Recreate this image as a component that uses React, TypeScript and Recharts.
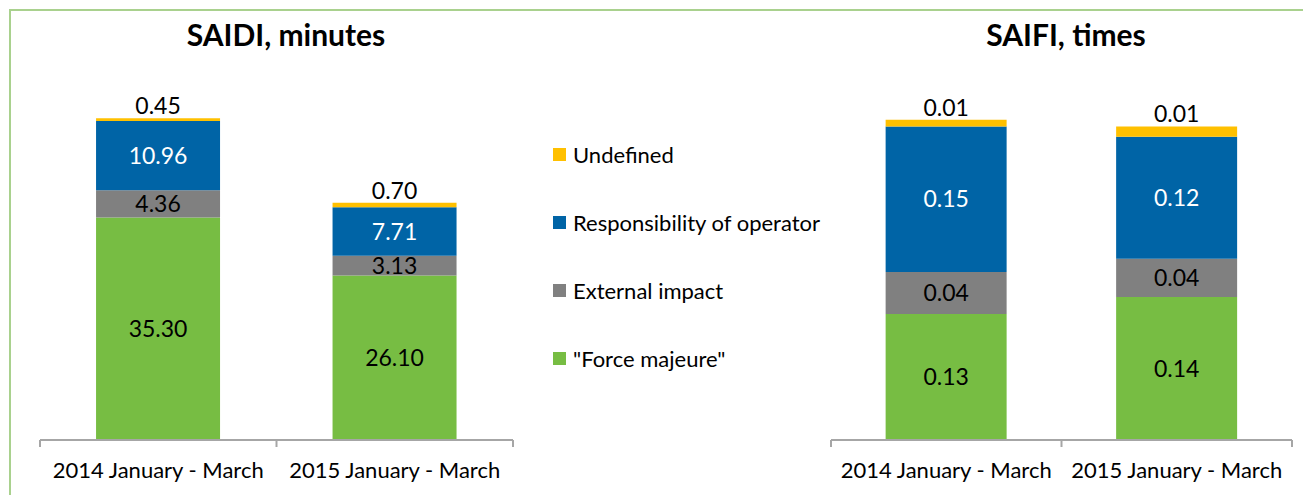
import { BarChart, Bar, XAxis, YAxis, LabelList, Legend } from "recharts"

const categories = ["2014 January - March", "2015 January - March"]

// SAIDI, minutes
const saidiForce = [35.3, 26.1]
const saidiExternal = [4.36, 3.13]
const saidiOperator = [10.96, 7.71]
const saidiUndefined = [0.45, 0.7]

// SAIFI, times (labels show rounded values)
const saifiForce = [0.126, 0.143]
const saifiExternal = [0.042, 0.0383]
const saifiOperator = [0.1455, 0.122]
const saifiUndefined = [0.0067, 0.0103]

const seriesKeys = ["force", "external", "operator", "undefined"]
const seriesNames = ['"Force majeure"', "External impact", "Responsibility of operator", "Undefined"]
const seriesColors = ["#77bd43", "#808080", "#0064a6", "#ffc000"]
const labelColors = ["#000", "#000", "#fff", "#000"]

const FONT = "Lato, Carlito, 'Open Sans', sans-serif"
const AXIS = "#a6a6a6"
const TICK = 7
const HEIGHT = 495
const X_AXIS_H = 55

function buildRows(force: number[], external: number[], operator: number[], undef: number[]) {
  return categories.map((category, i) => ({
    category,
    force: force[i],
    external: external[i],
    operator: operator[i],
    undefined: undef[i],
  }))
}

const saidiRows = buildRows(saidiForce, saidiExternal, saidiOperator, saidiUndefined)
const saifiRows = buildRows(saifiForce, saifiExternal, saifiOperator, saifiUndefined)

function makeTick(half: number, count: number) {
  return function Tick(props: any) {
    const { x, y, payload, index } = props
    const axisY = y - TICK
    return (
      <g>
        <line x1={x - half} x2={x - half} y1={axisY} y2={axisY + TICK} stroke={AXIS} strokeWidth={2} />
        {index === count - 1 && (
          <line x1={x + half} x2={x + half} y1={axisY} y2={axisY + TICK} stroke={AXIS} strokeWidth={2} />
        )}
        <text x={x} y={axisY + 38} textAnchor="middle" fill="#000" fontSize={22} fontFamily={FONT}>
          {payload.value}
        </text>
      </g>
    )
  }
}

function LegendContent({ payload }: { payload?: Array<{ value: string; color: string }> }) {
  const items = [...(payload ?? [])].reverse()
  return (
    <div style={{ fontFamily: FONT, fontSize: 22, color: "#000" }}>
      {items.map((it) => (
        <div key={it.value} style={{ height: 68, display: "flex", alignItems: "center" }}>
          <span style={{ width: 13, height: 13, background: it.color, marginRight: 7, flex: "none" }} />
          <span>{it.value}</span>
        </div>
      ))}
    </div>
  )
}

interface StackProps {
  rows: Array<Record<string, string | number>>
  width: number
  margin: { top: number; right: number; left: number; bottom: number }
  domain: [number, number]
  withLegend?: boolean
}

function StackChart({ rows, width, margin, domain, withLegend }: StackProps) {
  const plotW = width - margin.left - margin.right
  const half = plotW / rows.length / 2
  return (
    <BarChart width={width} height={HEIGHT} data={rows} margin={margin} barCategoryGap="23.7%">
      <XAxis
        dataKey="category"
        height={X_AXIS_H}
        tickLine={false}
        tickSize={TICK}
        tickMargin={0}
        axisLine={{ stroke: AXIS, strokeWidth: 2 }}
        tick={makeTick(half, rows.length)}
        interval={0}
      />
      <YAxis hide domain={domain} />
      {withLegend && (
        <Legend
          layout="vertical"
          align="center"
          verticalAlign="middle"
          content={<LegendContent />}
          wrapperStyle={{ left: 553, top: 120, width: 300, height: 272 }}
        />
      )}
      {seriesKeys.map((key, i) => (
        <Bar
          key={key}
          dataKey={key}
          name={seriesNames[i]}
          stackId="a"
          fill={seriesColors[i]}
          isAnimationActive={false}
        >
          <LabelList
            dataKey={key}
            position={i === 3 ? "top" : "center"}
            offset={4}
            fill={labelColors[i]}
            fontSize={23}
            fontFamily={FONT}
            formatter={(v: any) => Number(v).toFixed(2)}
          />
        </Bar>
      ))}
    </BarChart>
  )
}

const titleStyle = {
  position: "absolute" as const,
  top: 17,
  width: 400,
  textAlign: "center" as const,
  fontFamily: FONT,
  fontWeight: 700,
  fontSize: 30,
  lineHeight: "34px",
  color: "#000",
}

export default function App() {
  return (
    <div
      style={{
        position: "absolute",
        left: 0,
        top: 0,
        width: 1303,
        height: HEIGHT,
        overflow: "hidden",
        background: "#fff",
      }}
    >
      <div
        style={{
          position: "absolute",
          left: 9,
          top: 9,
          width: 1320,
          height: 520,
          border: "2px solid #a9d18e",
        }}
      />
      <div style={{ position: "absolute", left: 0, top: 0 }}>
        <StackChart
          rows={saidiRows}
          width={830}
          margin={{ top: 62, right: 317, left: 40, bottom: 0 }}
          domain={[0, 60]}
          withLegend
        />
      </div>
      <div style={{ position: "absolute", left: 800, top: 0 }}>
        <StackChart
          rows={saifiRows}
          width={503}
          margin={{ top: 90, right: 11, left: 31, bottom: 0 }}
          domain={[0, 0.35]}
        />
      </div>
      <div style={{ ...titleStyle, left: 286 - 200 }}>SAIDI, minutes</div>
      <div style={{ ...titleStyle, left: 1066 - 200 }}>SAIFI, times</div>
    </div>
  )
}
